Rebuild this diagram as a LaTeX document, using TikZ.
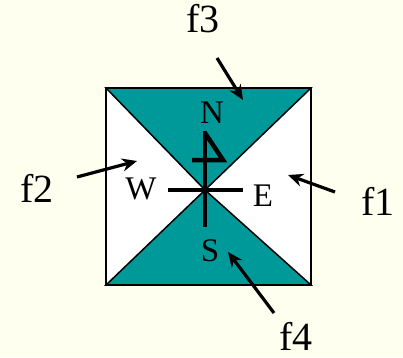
\documentclass[tikz,border=0pt]{standalone}
\usepackage{fontspec}
\setmainfont{Liberation Serif}
\usetikzlibrary{arrows.meta}
\definecolor{nenkem}{RGB}{255,255,240}
\definecolor{xanhmong}{RGB}{0,153,153}
\begin{document}
\begin{tikzpicture}[x=1pt, y=1pt, font=\fontsize{33}{33}\selectfont,
	muiten/.style={line width=3.2pt, -{Stealth[length=15pt,width=13pt]}},
	thanh/.style={line width=4.5pt},
	nhan/.style={inner sep=0pt},
	nhanmat/.style={inner sep=0pt, font=\fontsize{40}{40}\selectfont}]
	% 1. Nền của hình
	\fill[nenkem] (0,0) rectangle (403,357);
	\useasboundingbox (0,0) rectangle (403,357);
	% 2. Các góc của khung vuông và tâm
	\coordinate (tl) at (106,269);
	\coordinate (tr) at (311,269);
	\coordinate (br) at (311,72);
	\coordinate (bl) at (106,72);
	\coordinate (tam) at (205,167);
	% 3. Khung trắng và hai tam giác xanh
	\draw[fill=white, line width=1.5pt] (tl) rectangle (br);
	\draw[fill=xanhmong, line width=1.5pt] (tl) -- (tr) -- (tam) -- cycle;
	\draw[fill=xanhmong, line width=1.5pt] (bl) -- (br) -- (tam) -- cycle;
	\draw[line width=1.5pt] (tl) rectangle (br);
	% 4. La bàn ở giữa
	\draw[thanh] (168,167) -- (243,167);
	\draw[thanh] (205,226) -- (205,130);
	\draw[thanh, line join=miter] (205,224) -- (223,197) -- (192,197);
	% 5. Các chữ N, W, E, S
	\node[nhan] (chuN) at (212,244) {N};
	\node[nhan] (chuW) at (141,168) {W};
	\node[nhan] (chuE) at (263,161) {E};
	\node[nhan] (chuS) at (210,106) {S};
	% 6. Nhãn các mặt
	\node[nhanmat] (f3) at (203,338) {f3};
	\node[nhanmat] (f2) at (37,169) {f2};
	\node[nhanmat] (f1) at (378,156) {f1};
	\node[nhanmat] (f4) at (296,21) {f4};
	% 7. Mũi tên chỉ vào các mặt
	\coordinate (duoi3) at (217,299); \coordinate (dau3) at (243,257);
	\coordinate (duoi2) at (77,180);  \coordinate (dau2) at (137,196);
	\coordinate (duoi1) at (335,165); \coordinate (dau1) at (288,182);
	\coordinate (duoi4) at (274,44);  \coordinate (dau4) at (228,105);
	\draw[muiten] (duoi3) -- (dau3);
	\draw[muiten] (duoi2) -- (dau2);
	\draw[muiten] (duoi1) -- (dau1);
	\draw[muiten] (duoi4) -- (dau4);
\end{tikzpicture}
\end{document}
